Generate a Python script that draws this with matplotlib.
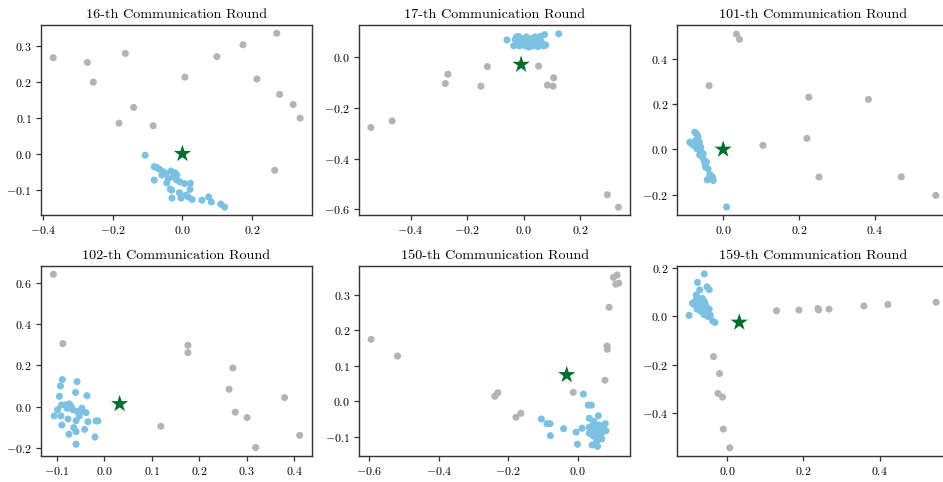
import matplotlib
matplotlib.use("Agg")
import matplotlib.pyplot as plt
import numpy as np

plt.rcParams['font.family'] = ['cmr10', 'DejaVu Serif']
plt.rcParams['mathtext.fontset'] = 'cm'
plt.rcParams['axes.formatter.use_mathtext'] = True
plt.rcParams['axes.unicode_minus'] = True

titles = ["16-th Communication Round", "17-th Communication Round", "101-th Communication Round",
          "102-th Communication Round", "150-th Communication Round", "159-th Communication Round"]

# ---- panel 1 (round 16)
p1_gray_x = [-0.371, -0.273, -0.256, -0.164, -0.140, -0.182, -0.084, 0.007, 0.099, 0.174, 0.214, 0.271, 0.279, 0.318, 0.338, 0.265]
p1_gray_y = [0.267, 0.254, 0.199, 0.279, 0.129, 0.085, 0.078, 0.213, 0.270, 0.303, 0.208, 0.335, 0.165, 0.137, 0.099, -0.046]
p1_blue_x = [-0.107, -0.081, -0.074, -0.066, -0.055, -0.081, -0.048, -0.045, -0.033, -0.021, -0.026, -0.016, -0.007, 0.006, 0.023, -0.035,
             -0.031, -0.009, -0.030, -0.004, 0.010, 0.022, 0.017, 0.028, 0.056, 0.075, 0.083, 0.110, 0.121, -0.040, -0.059, -0.016]
p1_blue_y = [-0.004, -0.036, -0.038, -0.043, -0.050, -0.073, -0.055, -0.081, -0.048, -0.053, -0.064, -0.073, -0.078, -0.083, -0.082, -0.098,
             -0.101, -0.108, -0.123, -0.123, -0.115, -0.099, -0.120, -0.127, -0.129, -0.120, -0.134, -0.140, -0.148, -0.069, -0.059, -0.059]
p1_star = (0.0, 0.0)
p1_lim = (-0.406, 0.372, -0.171, 0.358)

# ---- panel 2 (round 17)
p2_gray_x = [-0.540, -0.465, -0.277, -0.268, -0.151, -0.128, 0.053, 0.084, 0.104, 0.106, 0.296, 0.335]
p2_gray_y = [-0.277, -0.251, -0.104, -0.067, -0.114, -0.037, -0.035, -0.110, -0.114, -0.081, -0.542, -0.591]
p2_blue_x = [-0.059, 0.124, 0.074, -0.035, -0.025, -0.020, -0.015, -0.010, -0.005, 0.000, 0.005, 0.010, 0.015, 0.020, 0.025, 0.030, 0.035,
             0.040, 0.045, 0.050, 0.055, 0.060, 0.065, 0.070, 0.078, -0.030, 0.008, 0.028, 0.048, 0.062, -0.018, 0.038, 0.018, 0.052]
p2_blue_y = [0.068, 0.092, 0.089, 0.045, 0.080, 0.060, 0.045, 0.075, 0.055, 0.068, 0.045, 0.080, 0.060, 0.050, 0.072, 0.045, 0.065,
             0.080, 0.055, 0.042, 0.070, 0.082, 0.050, 0.045, 0.048, 0.070, 0.062, 0.058, 0.075, 0.062, 0.082, 0.047, 0.040, 0.060]
p2_star = (-0.009, -0.029)
p2_lim = (-0.581, 0.377, -0.623, 0.127)

# ---- panel 3 (round 101)
p3_gray_x = [0.035, 0.043, -0.037, 0.226, 0.383, 0.105, 0.221, 0.253, 0.470, 0.561]
p3_gray_y = [0.510, 0.487, 0.282, 0.231, 0.221, 0.018, 0.049, -0.122, -0.121, -0.203]
p3_blue_x = [0.009, -0.075, -0.070, -0.088, -0.081, -0.075, -0.066, -0.063, -0.059, -0.062, -0.055, -0.051, -0.048, -0.046, -0.040,
             -0.035, -0.028, -0.042, -0.026, -0.057, -0.072, -0.084, -0.053, -0.069, -0.044, -0.034]
p3_blue_y = [-0.254, 0.076, 0.069, 0.032, 0.022, 0.015, 0.054, 0.032, 0.010, -0.024, -0.034, -0.046, -0.063, -0.078, -0.085,
             -0.110, -0.122, -0.134, -0.137, -0.012, 0.040, 0.028, -0.019, 0.003, -0.056, -0.115]
p3_star = (0.0, 0.0)
p3_lim = (-0.121, 0.594, -0.291, 0.550)

# ---- panel 4 (round 102)
p4_gray_x = [-0.108, -0.088, 0.176, 0.176, 0.271, 0.263, 0.276, 0.301, 0.319, 0.380, 0.412, 0.119]
p4_gray_y = [0.640, 0.305, 0.297, 0.261, 0.187, 0.084, -0.027, -0.053, -0.198, 0.044, -0.139, -0.095]
p4_blue_x = [-0.106, -0.099, -0.095, -0.093, -0.089, -0.091, -0.092, -0.090, -0.082, -0.079, -0.074, -0.077, -0.075, -0.067, -0.065,
             -0.061, -0.060, -0.060, -0.060, -0.058, -0.057, -0.053, -0.048, -0.042, -0.039, -0.037, -0.035, -0.020, -0.018, -0.014,
             -0.070, -0.051]
p4_blue_y = [-0.045, -0.015, 0.050, 0.100, 0.131, 0.008, -0.045, -0.089, 0.008, -0.008, 0.013, -0.060, -0.134, -0.015, -0.102,
             0.069, -0.068, -0.121, -0.182, 0.121, -0.024, -0.045, -0.008, -0.110, -0.029, 0.053, -0.073, -0.147, -0.069, -0.069,
             0.000, -0.021]
p4_star = (0.032, 0.013)
p4_lim = (-0.134, 0.438, -0.239, 0.682)

# ---- panel 5 (round 150)
p5_gray_x = [-0.595, -0.519, -0.239, -0.230, -0.178, -0.164, -0.013, 0.078, 0.084, 0.085, 0.090, 0.102, 0.113, 0.109, 0.118]
p5_gray_y = [0.174, 0.127, 0.014, 0.024, -0.045, -0.034, 0.025, 0.059, 0.155, 0.146, 0.264, 0.348, 0.355, 0.329, 0.332]
p5_blue_x = [-0.105, -0.089, -0.080, -0.079, -0.041, -0.005, -0.001, 0.012, 0.016, 0.030, 0.039, 0.033, 0.033, 0.033, 0.041, 0.046,
             0.045, 0.050, 0.054, 0.057, 0.059, 0.061, 0.062, 0.065, 0.068, 0.079, 0.081, 0.069, 0.054, 0.039, 0.073]
p5_blue_y = [-0.050, -0.063, -0.063, -0.097, -0.077, -0.087, -0.121, -0.076, 0.020, -0.011, -0.011, -0.048, -0.073, -0.090, -0.123, -0.057,
             -0.098, -0.085, -0.113, -0.127, -0.041, -0.067, -0.099, -0.076, -0.090, -0.063, -0.083, -0.106, -0.074, -0.071, -0.072]
p5_star = (-0.032, 0.074)
p5_lim = (-0.629, 0.151, -0.154, 0.381)

# ---- panel 6 (round 159)
p6_gray_x = [0.129, 0.188, 0.238, 0.240, 0.267, 0.359, 0.422, 0.549, -0.037, -0.021, -0.025, -0.013, -0.011, 0.006]
p6_gray_y = [0.023, 0.026, 0.032, 0.027, 0.030, 0.043, 0.049, 0.058, -0.166, -0.236, -0.318, -0.333, -0.465, -0.542]
p6_blue_x = [-0.061, -0.101, -0.079, -0.054, -0.048, -0.092, -0.086, -0.082, -0.077, -0.073, -0.075, -0.068, -0.064, -0.060, -0.057,
             -0.054, -0.048, -0.045, -0.039, -0.033, -0.066, -0.071, -0.051, -0.083, -0.062, -0.080]
p6_blue_y = [0.175, 0.004, 0.140, 0.122, 0.110, 0.054, 0.047, 0.088, 0.067, 0.109, 0.040, 0.054, 0.026, 0.060, 0.044,
             0.019, 0.030, 0.005, -0.019, -0.025, 0.074, 0.022, -0.001, 0.067, 0.008, 0.030]
p6_star = (0.031, -0.025)
p6_lim = (-0.132, 0.581, -0.576, 0.209)

panels = [
    (p1_gray_x, p1_gray_y, p1_blue_x, p1_blue_y, p1_star, p1_lim),
    (p2_gray_x, p2_gray_y, p2_blue_x, p2_blue_y, p2_star, p2_lim),
    (p3_gray_x, p3_gray_y, p3_blue_x, p3_blue_y, p3_star, p3_lim),
    (p4_gray_x, p4_gray_y, p4_blue_x, p4_blue_y, p4_star, p4_lim),
    (p5_gray_x, p5_gray_y, p5_blue_x, p5_blue_y, p5_star, p5_lim),
    (p6_gray_x, p6_gray_y, p6_blue_x, p6_blue_y, p6_star, p6_lim),
]

W, H = 943, 482
fig = plt.figure(figsize=(W / 100, H / 100), dpi=100)

col_left = [41, 359.3, 677.3]
row_top = [25, 265.7]
aw, ah = 271, 190.3

GRAY = '#b4b4b4'
BLUE = '#7cc1e1'
GREEN = '#006d2c'

for i, (gx, gy, bx, by, star, lim) in enumerate(panels):
    r, c = divmod(i, 3)
    left = col_left[c] / W
    bottom = 1 - (row_top[r] + ah) / H
    ax = fig.add_axes([left, bottom, aw / W, ah / H])
    ax.scatter(gx, gy, s=26, color=GRAY, edgecolors='none', zorder=2)
    ax.scatter(bx, by, s=26, color=BLUE, edgecolors='none', zorder=3)
    ax.scatter([star[0]], [star[1]], s=170, marker='*', color=GREEN, edgecolors='none', zorder=4)
    ax.set_xlim(lim[0], lim[1])
    ax.set_ylim(lim[2], lim[3])
    ax.set_title(titles[i], fontsize=10.2, pad=5)
    for sp in ax.spines.values():
        sp.set_color('#333333')
        sp.set_linewidth(1.0)
    ax.tick_params(axis='both', labelsize=8.6, length=3.5, width=0.9, color='#333333', pad=3)

fig.savefig('out.png', dpi=100)
